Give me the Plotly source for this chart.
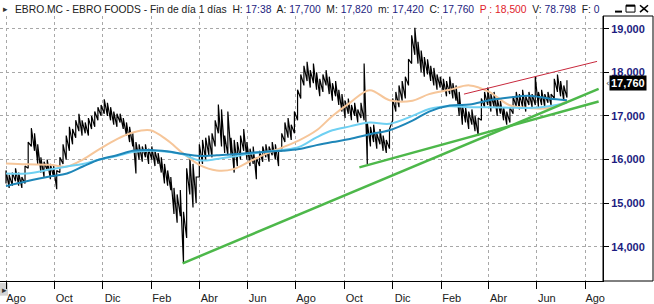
import plotly.graph_objects as go
import pandas as pd

# ---------------- data ----------------
bar_start = "2019-08-01"
bar_step = "4D"
bar_low = [
    15.45, 15.35, 15.40, 15.50, 15.40, 15.35, 15.45, 15.80, 16.30, 16.20,
    15.90, 15.70, 15.60, 15.75, 15.55, 15.60, 15.32, 15.70, 15.90, 16.00,
    16.20, 16.35, 16.50, 16.65, 16.55, 16.60, 16.55, 16.70, 16.75, 16.90,
    17.00, 17.05, 17.00, 16.90, 16.80, 16.75, 16.85, 16.70, 16.55, 16.40,
    16.30, 15.68, 16.00, 15.95, 16.05, 15.90, 16.00, 15.85, 15.90, 15.70,
    15.45, 15.40, 15.30, 14.75, 14.55, 14.70, 13.62, 14.20, 15.20, 14.90,
    15.00, 15.60, 15.90, 16.00, 16.10, 16.05, 16.30, 16.60, 16.30, 16.15,
    16.10, 16.10, 15.70, 15.85, 16.00, 16.20, 16.00, 15.85, 15.90, 15.55,
    15.85, 15.95, 16.05, 15.95, 16.10, 16.00, 15.85, 16.20, 16.40, 16.50,
    16.45, 16.60, 16.90, 17.40, 17.70, 17.80, 17.65, 17.75, 17.60, 17.45,
    17.55, 17.70, 17.50, 17.35, 17.45, 17.25, 17.10, 16.95, 17.05, 16.90,
    17.00, 16.85, 16.95, 16.90, 15.90, 16.30, 16.40, 16.25, 16.35, 16.20,
    16.15, 16.25, 16.90, 17.10, 17.20, 17.35, 17.40, 17.70, 18.20, 18.40,
    18.20, 18.00, 17.90, 17.95, 17.80, 17.70, 17.60, 17.65, 17.55, 17.45,
    17.50, 17.40, 17.35, 17.00, 16.80, 16.85, 16.70, 16.80, 16.65, 16.55,
    16.90, 17.20, 17.25, 17.10, 17.20, 17.00, 17.05, 16.90, 16.80, 16.85,
    17.05, 17.20, 17.15, 17.20, 17.10, 17.25, 17.20, 17.25, 17.20, 17.25,
    17.20, 17.30, 17.25, 17.40, 17.55, 17.45, 17.35, 17.42,
]
bar_high = [
    15.75, 15.65, 15.70, 15.80, 15.70, 15.60, 15.85, 16.40, 16.72, 16.60,
    16.35, 16.05, 15.95, 16.00, 15.90, 15.85, 15.75, 16.05, 16.35, 16.55,
    16.75, 16.70, 16.90, 17.05, 16.90, 16.85, 16.95, 17.00, 17.10, 17.20,
    17.25, 17.38, 17.30, 17.20, 17.10, 17.05, 17.05, 16.95, 16.85, 16.75,
    16.60, 16.40, 16.35, 16.30, 16.35, 16.25, 16.30, 16.20, 16.15, 16.05,
    15.90, 15.75, 15.60, 15.35, 15.20, 15.30, 14.80, 15.80, 16.10, 15.90,
    15.60, 16.35, 16.45, 16.50, 16.55, 16.60, 16.90, 17.26, 17.15, 16.55,
    17.10, 16.50, 16.45, 16.40, 16.55, 16.70, 16.40, 16.25, 16.30, 16.05,
    16.20, 16.30, 16.35, 16.30, 16.40, 16.35, 16.20, 16.60, 16.85, 16.95,
    16.80, 17.10, 17.60, 17.95, 18.15, 18.24, 18.05, 18.20, 18.00, 17.85,
    17.95, 18.05, 17.90, 17.75, 17.80, 17.60, 17.50, 17.35, 17.40, 17.25,
    17.30, 17.15, 17.30, 18.20, 16.85, 16.75, 16.80, 16.60, 16.70, 16.55,
    16.45, 16.70, 17.40, 17.55, 17.70, 17.80, 17.90, 18.30, 18.85, 19.02,
    18.70, 18.50, 18.35, 18.30, 18.15, 18.10, 17.95, 17.90, 17.85, 17.80,
    17.90, 17.75, 17.70, 17.55, 17.25, 17.20, 17.10, 17.15, 17.00, 16.95,
    17.40, 17.55, 17.65, 17.50, 17.55, 17.40, 17.35, 17.20, 17.10, 17.20,
    17.45, 17.55, 17.50, 17.60, 17.45, 17.55, 17.50, 17.90, 17.55, 17.60,
    17.50, 17.55, 17.50, 17.85, 17.95, 17.80, 17.70, 17.82,
]
last_close = 17.76

ma_dates = [
    "2019-08-01", "2019-08-27", "2019-09-25", "2019-10-17", "2019-11-06",
    "2019-11-27", "2019-12-19", "2020-01-08", "2020-01-30", "2020-02-20",
    "2020-03-11", "2020-04-01", "2020-04-23", "2020-05-14", "2020-06-03",
    "2020-06-24", "2020-07-15", "2020-08-05", "2020-08-27", "2020-09-16",
    "2020-10-08", "2020-11-02", "2020-11-27", "2020-12-26", "2021-01-16",
    "2021-02-11", "2021-03-08", "2021-04-02", "2021-04-27", "2021-05-22",
    "2021-06-16", "2021-07-09",
]
ma_orange = [
    15.91, 15.89, 15.88, 15.84, 16.00, 16.24, 16.47, 16.62, 16.67, 16.45,
    16.15, 15.88, 15.75, 15.78, 15.95, 16.13, 16.28, 16.44, 16.67, 17.00,
    17.30, 17.59, 17.36, 17.35, 17.50, 17.60, 17.70, 17.55, 17.25, 17.18,
    17.18, 17.34,
]
ma_light = [
    15.68, 15.68, 15.77, 15.84, 15.90, 16.00, 16.08, 16.17, 16.20, 16.18,
    16.12, 15.98, 16.01, 16.07, 16.13, 16.18, 16.22, 16.29, 16.51, 16.67,
    16.76, 16.85, 16.82, 17.00, 17.16, 17.22, 17.20, 17.20, 17.19, 17.18,
    17.22, 17.30,
]
ma_dark = [
    15.39, 15.50, 15.61, 15.68, 15.84, 16.00, 16.10, 16.20, 16.22, 16.19,
    16.13, 16.08, 16.10, 16.12, 16.15, 16.18, 16.20, 16.24, 16.33, 16.40,
    16.47, 16.58, 16.67, 16.89, 17.10, 17.24, 17.26, 17.36, 17.42, 17.46,
    17.40, 17.36,
]

green_long_x = ["2020-03-11", "2021-08-18"]
green_long_y = [13.62, 17.62]
green_short_x = ["2020-10-20", "2021-08-18"]
green_short_y = [15.82, 17.33]
red_x = ["2021-03-01", "2021-08-16"]
red_y = [17.50, 18.25]

y_ticks = [14, 15, 16, 17, 18, 19]
y_tick_labels = ["14,000", "15,000", "16,000", "17,000", "18,000", "19,000"]
month_ticks = ["2019-08-01", "2019-10-01", "2019-12-01", "2020-02-01", "2020-04-01",
               "2020-06-01", "2020-08-01", "2020-10-01", "2020-12-01", "2021-02-01",
               "2021-04-01", "2021-06-01", "2021-08-01"]
month_labels = ["Ago", "Oct", "Dic", "Feb", "Abr", "Jun", "Ago",
                "Oct", "Dic", "Feb", "Abr", "Jun", "Ago"]

# ---------------- build figure ----------------
W, H = 654, 304
PL, PR, PT, PB = 0, 603, 16, 287   # plot area in pixels


def px(xp):
    return (xp - PL) / (PR - PL)


def py(yp):
    return (PB - yp) / (PB - PT)


bar_dates = pd.date_range(bar_start, periods=len(bar_low), freq=bar_step)
bx, by = [], []
for d, lo, hi in zip(bar_dates, bar_low, bar_high):
    bx += [d, d]
    by += [lo, hi]

fig = go.Figure()
fig.add_trace(go.Scatter(x=bx, y=by, mode="lines",
                         line=dict(color="#000000", width=1.2), hoverinfo="skip"))
fig.add_trace(go.Scatter(x=ma_dates, y=ma_orange, mode="lines",
                         line=dict(color="#F6C69A", width=2, shape="spline")))
fig.add_trace(go.Scatter(x=ma_dates, y=ma_light, mode="lines",
                         line=dict(color="#6FD0F2", width=2, shape="spline")))
fig.add_trace(go.Scatter(x=ma_dates, y=ma_dark, mode="lines",
                         line=dict(color="#1E86B8", width=2, shape="spline")))
fig.add_trace(go.Scatter(x=green_long_x, y=green_long_y, mode="lines",
                         line=dict(color="#4DB84A", width=2.5)))
fig.add_trace(go.Scatter(x=green_short_x, y=green_short_y, mode="lines",
                         line=dict(color="#4DB84A", width=2.5)))
fig.add_trace(go.Scatter(x=red_x, y=red_y, mode="lines",
                         line=dict(color="#C8283C", width=1)))

navy = "#1C1C80"
dark = "#202020"
G = "\u00a0 "  # wider gap between fields
title = (f"<span style='color:{dark}'>EBRO.MC - EBRO FOODS - Fin de día 1 días{G}H: </span>"
         f"<span style='color:{navy}'>17:38</span>"
         f"<span style='color:{dark}'>{G}A: </span><span style='color:{navy}'>17,700</span>"
         f"<span style='color:{dark}'>{G}M: </span><span style='color:{navy}'>17,820</span>"
         f"<span style='color:{dark}'>{G}m: </span><span style='color:{navy}'>17,420</span>"
         f"<span style='color:{dark}'>{G}C: </span><span style='color:{navy}'>17,760</span>"
         f"<span style='color:#E0202A'>{G}P : 18,500</span>"
         f"<span style='color:{dark}'>{G}V: </span><span style='color:{navy}'>78.798</span>"
         f"<span style='color:{dark}'>{G}F: </span><span style='color:{navy}'>0</span>")

annotations = [
    dict(text=title, xref="paper", yref="paper", x=px(13), y=py(9),
         xanchor="left", yanchor="middle", showarrow=False,
         font=dict(family="Liberation Sans", size=10.3)),
    dict(text="▸", xref="paper", yref="paper", x=px(1), y=py(9),
         xanchor="left", yanchor="middle", showarrow=False,
         font=dict(family="DejaVu Sans", size=9, color="#303030")),
    dict(text="▸", xref="paper", yref="paper", x=px(0), y=py(296),
         xanchor="left", yanchor="middle", showarrow=False,
         font=dict(family="DejaVu Sans", size=9, color="#303030")),
    dict(text="<b>%s</b>" % f"{last_close:.3f}".replace(".", ","),
         xref="paper", yref="y", x=px(609), y=last_close,
         xanchor="left", yanchor="middle", showarrow=False,
         bgcolor="#000000", borderpad=1,
         font=dict(family="Liberation Sans", size=11, color="#FFFFFF")),
    dict(text="‹", xref="paper", yref="y", x=px(604), y=last_close,
         xanchor="left", yanchor="middle", showarrow=False,
         font=dict(family="DejaVu Sans", size=9, color="#404040")),
]

shapes = [
    # right axis panel box
    dict(type="rect", xref="paper", yref="paper", x0=px(603), x1=px(653),
         y0=py(287), y1=py(16), line=dict(color="#000000", width=1)),
    # grey icon box
    dict(type="rect", xref="paper", yref="paper", x0=px(0), x1=px(8),
         y0=py(302), y1=py(289), fillcolor="#D4D4D4", line=dict(width=0), layer="below"),
    # window buttons
    dict(type="line", xref="paper", yref="paper", x0=px(615), x1=px(622),
         y0=py(11.5), y1=py(11.5), line=dict(color="#000000", width=2)),
    dict(type="rect", xref="paper", yref="paper", x0=px(626), x1=px(635),
         y0=py(12), y1=py(5), line=dict(color="#000000", width=1)),
    dict(type="line", xref="paper", yref="paper", x0=px(626), x1=px(635),
         y0=py(5.5), y1=py(5.5), line=dict(color="#000000", width=2)),
    dict(type="line", xref="paper", yref="paper", x0=px(640), x1=px(648),
         y0=py(5), y1=py(12), line=dict(color="#000000", width=1.6)),
    dict(type="line", xref="paper", yref="paper", x0=px(640), x1=px(648),
         y0=py(12), y1=py(5), line=dict(color="#000000", width=1.6)),
]

fig.update_layout(
    width=W, height=H,
    margin=dict(l=PL, r=W - PR, t=PT, b=H - PB),
    paper_bgcolor="#FFFFFF", plot_bgcolor="#FFFFFF",
    showlegend=False,
    annotations=annotations, shapes=shapes,
    xaxis=dict(
        type="date", range=["2019-07-24 10:00", "2021-08-23 12:00"],
        tickvals=month_ticks, ticktext=month_labels,
        ticks="outside", ticklen=7, tickcolor="#000000", tickwidth=1,
        ticklabelshift=10, ticklabelstandoff=0,
        tickfont=dict(family="Liberation Sans", size=11, color="#202020"),
        showline=True, linecolor="#000000", linewidth=1,
        showgrid=True, gridcolor="#A8A8A8", griddash="dot", gridwidth=1,
        zeroline=False, fixedrange=True,
    ),
    yaxis=dict(
        side="right", range=[13.215, 19.291],
        tickvals=y_ticks, ticktext=["<b>%s</b>" % t for t in y_tick_labels],
        ticks="outside", ticklen=5, tickcolor="#000000",
        tickfont=dict(family="Liberation Sans", size=11, color=navy),
        showline=True, linecolor="#000000", linewidth=1,
        showgrid=True, gridcolor="#A8A8A8", griddash="dot", gridwidth=1,
        zeroline=False, fixedrange=True,
    ),
)

fig.write_html("out.html")
